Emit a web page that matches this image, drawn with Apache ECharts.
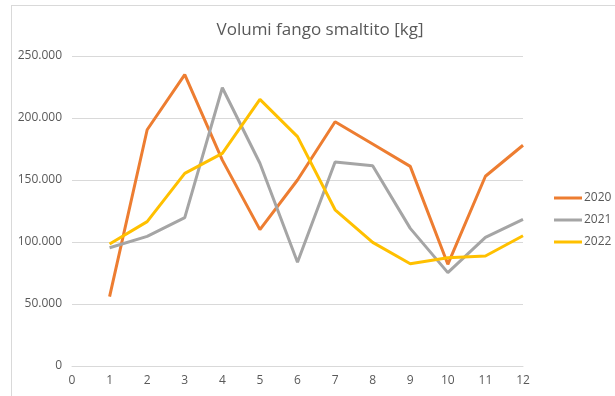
<!DOCTYPE html>
<html>
<head>
<meta charset="utf-8">
<script src="https://cdn.jsdelivr.net/npm/echarts@6/dist/echarts.min.js"></script>
<style>
html,body{margin:0;padding:0;background:#fff;}
#frame{position:absolute;left:11px;top:5px;width:610px;height:396px;border:1px solid #d9d9d9;box-sizing:border-box;}
#chart{position:absolute;left:0;top:0;width:615px;height:396px;}
</style>
</head>
<body>
<div id="frame"></div>
<div id="chart"></div>
<script>
const months = [1,2,3,4,5,6,7,8,9,10,11,12];
const seriesNames = ['2020','2021','2022'];
const v2020 = [56000,190500,235000,166000,110000,150000,197000,179000,161000,82000,153000,178000];
const v2021 = [95400,104500,119600,224400,163500,83600,164500,161500,111000,75300,103800,118300];
const v2022 = [98400,116400,155400,171500,215000,185000,126000,99700,82500,87300,88700,105000];
const colors = ['#ED7D31','#A5A5A5','#FFC000'];
const values = [v2020, v2021, v2022];

const fmt = v => String(v).replace(/\B(?=(\d{3})+(?!\d))/g, '.');
const chart = echarts.init(document.getElementById('chart'));
chart.setOption({
  animation:false,
  backgroundColor:'transparent',
  textStyle:{fontFamily:'Open Sans'},
  title:{text:'Volumi fango smaltito [kg]',left:315,top:17,textAlign:'center',
    textStyle:{fontSize:17,fontWeight:'normal',color:'#595959',fontFamily:'Open Sans'}},
  legend:{orient:'vertical',left:549,top:187,itemWidth:28,itemHeight:3,itemGap:10,
    icon:'rect',data:seriesNames,
    textStyle:{fontSize:12,color:'#595959',padding:[0,0,0,-3]}},
  grid:{left:72,right:92,top:56,bottom:30},
  xAxis:{type:'value',min:0,max:12,interval:1,
    axisLine:{show:true,lineStyle:{color:'#d9d9d9',width:1}},
    axisTick:{show:false},splitLine:{show:false},
    axisLabel:{color:'#595959',fontSize:12,margin:9}},
  yAxis:{type:'value',min:0,max:250000,interval:50000,
    axisLine:{show:false},axisTick:{show:false},
    splitLine:{lineStyle:{color:'#d9d9d9',width:1}},
    axisLabel:{color:'#595959',fontSize:12,margin:10,formatter:fmt}},
  series: seriesNames.map((n,i)=>({
    name:n,type:'line',symbol:'none',
    data: months.map((m,j)=>[m, values[i][j]]),
    lineStyle:{color:colors[i],width:3},itemStyle:{color:colors[i]}
  }))
});
</script>
</body>
</html>
